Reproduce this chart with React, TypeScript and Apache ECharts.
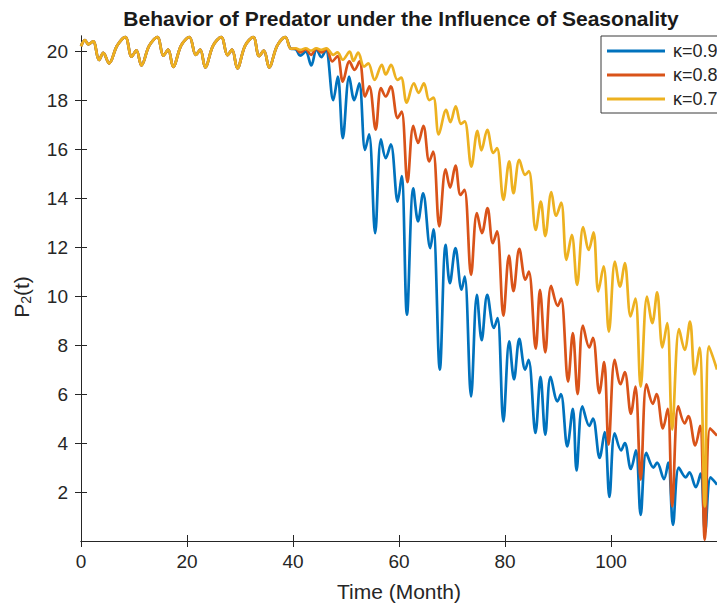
import React, { useEffect, useRef } from 'react';
import * as echarts from 'echarts';

const FONT = '"Liberation Sans", Arial, Helvetica, sans-serif';
const INK = '#262626';

const chartTitle = 'Behavior of Predator under the Influence of Seasonality';
const xName = 'Time (Month)';
const yName = '{a|P}{b|2}{a|(t)}';
const seriesNames = ['κ=0.9', 'κ=0.8', 'κ=0.7'];
const seriesColors = ['#0072BD', '#D95319', '#EDB120'];
const xTicks = [0, 20, 40, 60, 80, 100];
const yTicks = [2, 4, 6, 8, 10, 12, 14, 16, 18, 20];

// [month, P2] — common trajectory before the curves separate
const earlyPhase = [
  [0, 20.2], [0.75, 20.45], [1.4, 20.28], [2.3, 20.4], [3.4, 19.64], [4.2, 19.93], [5.3, 19.5],
  [6.8, 20.22], [8.35, 20.58], [9.55, 19.78], [10.45, 20.03], [11.4, 19.42],
  [12.85, 20.22], [14.4, 20.58], [15.55, 19.82], [16.45, 20.06], [17.4, 19.36],
  [18.9, 20.24], [20.45, 20.58], [21.65, 19.85], [22.5, 20.06], [23.45, 19.34],
  [24.9, 20.22], [26.45, 20.58], [27.65, 19.84], [28.5, 20.06], [29.5, 19.3],
  [30.95, 20.22], [32.5, 20.58], [33.6, 19.8], [34.5, 20.02], [35.5, 19.34],
  [37.0, 20.22], [38.55, 20.58], [39.6, 20.1],
];

const blueLate = [
  [40.5, 20.08], [41.35, 19.82], [42.4, 19.98], [43.45, 19.42], [44.45, 20.08], [45.35, 19.76], [46.2, 20.06], [47.6, 18.0], [48.45, 18.96],
  [49.4, 16.45], [50.6, 18.96], [51.55, 18.0], [52.5, 18.69], [53.6, 15.97], [54.35, 16.6],
  [55.5, 12.57], [56.6, 16.4], [57.5, 15.63], [58.45, 16.2], [59.75, 13.86], [60.5, 14.9],
  [61.5, 9.24], [62.7, 14.4], [63.6, 13.05], [64.55, 14.2], [65.9, 11.96], [66.5, 12.73],
  [67.7, 7.0], [68.8, 12.09], [69.6, 10.53], [70.65, 11.96], [71.8, 10.26], [72.4, 10.8],
  [73.6, 5.9], [74.7, 10.05], [75.6, 8.2], [76.65, 10.05], [77.9, 8.7], [78.6, 9.1],
  [79.7, 4.88], [80.8, 8.15], [81.7, 6.6], [82.7, 8.25], [83.8, 7.0], [84.45, 7.4],
  [85.75, 4.41], [86.7, 6.7], [87.6, 4.34], [88.6, 6.7], [89.9, 5.7], [90.55, 6.0],
  [91.75, 3.86], [92.8, 5.4], [93.5, 2.88], [94.6, 5.5], [95.9, 4.7], [96.6, 5.0],
  [97.85, 3.39], [98.8, 4.45], [99.7, 1.8], [100.7, 4.4], [101.9, 3.7], [102.6, 4.0],
  [103.75, 2.94], [104.7, 3.7], [105.6, 1.07], [106.65, 3.6], [108.0, 3.0], [108.7, 3.2],
  [110.0, 2.53], [110.8, 3.2], [111.7, 0.66], [112.8, 3.0], [114.1, 2.6], [114.8, 2.8],
  [116.0, 2.2], [116.9, 2.75], [117.75, 0.35], [118.8, 2.6], [120, 2.3],
];

const redLate = [
  [40.5, 20.1], [41.4, 19.95], [42.4, 20.08], [43.4, 19.85], [44.4, 20.1], [45.4, 19.95], [46.3, 20.1], [47.4, 19.58], [48.4, 19.8],
  [49.4, 18.76], [50.65, 19.58], [51.6, 19.24], [52.55, 19.58], [53.6, 18.15], [54.4, 18.56],
  [55.6, 16.8], [56.6, 18.49], [57.5, 18.15], [58.45, 18.56], [59.75, 17.27], [60.5, 17.53],
  [61.6, 14.65], [62.7, 16.95], [63.6, 16.25], [64.6, 16.95], [65.7, 15.5], [66.45, 15.9],
  [67.6, 12.85], [68.8, 15.18], [69.65, 14.43], [70.65, 15.33], [71.6, 14.13], [72.35, 14.34],
  [73.6, 10.87], [74.7, 13.39], [75.65, 12.57], [76.7, 13.59], [77.7, 12.16], [78.5, 12.64],
  [79.7, 9.2], [80.75, 11.65], [81.6, 10.2], [82.7, 11.93], [83.85, 10.67], [84.5, 11.0],
  [85.8, 7.85], [86.6, 10.25], [87.6, 7.7], [88.7, 10.42], [89.95, 9.6], [90.6, 9.9],
  [91.9, 6.51], [92.8, 8.49], [93.7, 6.0], [94.7, 8.8], [95.9, 7.9], [96.6, 8.3],
  [97.8, 6.04], [98.7, 7.3], [99.55, 3.93], [100.7, 7.4], [101.8, 6.4], [102.6, 6.9],
  [103.75, 5.2], [104.6, 6.3], [105.6, 2.5], [106.7, 6.4], [107.9, 5.6], [108.6, 6.0],
  [109.8, 4.6], [110.7, 5.4], [111.55, 1.41], [112.7, 5.5], [113.9, 4.8], [114.6, 5.1],
  [115.9, 3.9], [116.8, 4.7], [117.7, 0.05], [118.7, 4.6], [120, 4.3],
];

const yellowLate = [
  [40.5, 20.12], [41.4, 20.05], [42.4, 20.12], [43.4, 20.02], [44.4, 20.12], [45.4, 20.05], [46.3, 20.12], [47.6, 19.85], [48.4, 19.95],
  [49.4, 19.65], [50.7, 19.98], [51.4, 19.6], [52.3, 19.94], [53.4, 19.37], [54.2, 19.5],
  [55.4, 18.83], [56.75, 19.44], [57.5, 19.05], [58.5, 19.44], [59.7, 18.83], [60.4, 18.92],
  [61.45, 17.9], [62.8, 18.69], [63.7, 18.3], [64.7, 18.69], [65.7, 18.0], [66.5, 18.1],
  [67.5, 16.6], [68.9, 17.6], [69.7, 17.1], [70.7, 17.75], [71.7, 17.03], [72.4, 17.13],
  [73.65, 15.29], [74.8, 16.75], [75.55, 15.95], [76.65, 16.79], [77.8, 15.85], [78.5, 16.04],
  [79.7, 13.93], [80.8, 15.5], [81.6, 14.2], [82.7, 15.56], [83.8, 14.95], [84.5, 15.1],
  [85.8, 12.7], [86.75, 13.86], [87.6, 12.45], [88.75, 14.25], [89.65, 13.28], [90.6, 13.82],
  [91.6, 11.48], [92.6, 12.5], [93.6, 10.46], [94.75, 12.82], [95.8, 11.89], [96.7, 12.6],
  [97.6, 10.19], [98.6, 11.21], [99.6, 8.55], [100.75, 11.41], [101.7, 10.39], [102.6, 11.35],
  [103.7, 9.17], [104.6, 9.9], [105.6, 6.3], [106.8, 9.98], [107.8, 8.9], [108.7, 10.15],
  [109.7, 7.9], [110.6, 8.9], [111.55, 4.55], [112.85, 8.65], [113.9, 7.8], [114.9, 8.96],
  [115.8, 6.8], [116.7, 7.9], [117.7, 1.41], [118.5, 7.95], [120, 7.0],
];

const lateSegments = [blueLate, redLate, yellowLate];

export default function App() {
  const ref = useRef<HTMLDivElement>(null);

  useEffect(() => {
    if (!ref.current) return;
    const chart = echarts.init(ref.current, null, { renderer: 'svg' });

    const axisLine = { show: true, lineStyle: { color: INK, width: 1 } };
    const labelStyle = { fontFamily: FONT, fontSize: 19, color: INK };

    const option: any = {
      animation: false,
      backgroundColor: '#ffffff',
      grid: { left: 81, top: 36, width: 641, height: 505, containLabel: false },
      xAxis: [
        {
          type: 'value', min: 0, max: 120, position: 'bottom',
          axisLine, splitLine: { show: false },
          axisTick: { inside: true, length: 6, customValues: xTicks, lineStyle: { color: INK } },
          axisLabel: { ...labelStyle, margin: 11, customValues: xTicks },
          name: xName, nameLocation: 'middle', nameGap: 40,
          nameTextStyle: { fontFamily: FONT, fontSize: 21, color: INK },
        },
        {
          type: 'value', min: 0, max: 120, position: 'top',
          axisLine, splitLine: { show: false },
          axisTick: { inside: true, length: 6, customValues: xTicks, lineStyle: { color: INK } },
          axisLabel: { show: false },
        },
      ],
      yAxis: [
        {
          type: 'value', min: 0, max: 20.62, position: 'left',
          axisLine, splitLine: { show: false },
          axisTick: { inside: true, length: 6, customValues: yTicks, lineStyle: { color: INK } },
          axisLabel: { ...labelStyle, margin: 13, customValues: yTicks },
        },
        {
          type: 'value', min: 0, max: 20.62, position: 'right',
          axisLine, splitLine: { show: false },
          axisTick: { inside: true, length: 6, customValues: yTicks, lineStyle: { color: INK } },
          axisLabel: { show: false },
        },
      ],
      legend: {
        data: seriesNames,
        orient: 'vertical',
        left: 601, top: 36,
        backgroundColor: '#ffffff',
        borderColor: '#3a3a3a', borderWidth: 1,
        padding: [6, 16, 5, 6],
        itemGap: 6,
        itemWidth: 58, itemHeight: 3,
        icon: 'rect',
        textStyle: { fontFamily: FONT, fontSize: 18, color: INK, padding: [0, 0, 0, 3] },
      },
      graphic: [
        {
          type: 'text', x: 401, y: 18,
          style: {
            text: chartTitle, textAlign: 'center', textVerticalAlign: 'middle',
            font: `bold 21px ${FONT}`, fill: '#1a1a1a',
          },
        },
        {
          type: 'text', x: 21, y: 297, rotation: Math.PI / 2,
          style: {
            text: yName, align: 'center', verticalAlign: 'middle', fill: INK,
            rich: {
              a: { fontFamily: FONT, fontSize: 21, fill: INK },
              b: { fontFamily: FONT, fontSize: 14, fill: INK, verticalAlign: 'bottom', padding: [10, 0, 0, 0] },
            },
          },
        },
      ],
      series: seriesNames.map((name, i) => ({
        name,
        type: 'line',
        xAxisIndex: 0, yAxisIndex: 0,
        data: [...earlyPhase, ...lateSegments[i]],
        showSymbol: false,
        smooth: 0.35,
        lineStyle: { color: seriesColors[i], width: 2.7 },
        itemStyle: { color: seriesColors[i] },
        z: 2 + i,
      })),
    };

    chart.setOption(option);
    return () => chart.dispose();
  }, []);

  return (
    <div
      ref={ref}
      style={{ position: 'fixed', left: 0, top: 0, width: 717, height: 607, background: '#fff' }}
    />
  );
}
